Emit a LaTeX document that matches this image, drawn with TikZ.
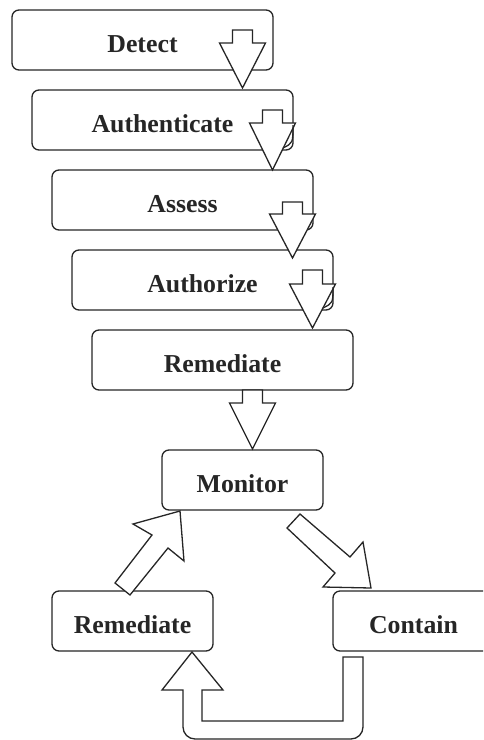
\documentclass[tikz,border=0pt]{standalone}
\usepackage{fontspec}
\setmainfont{Liberation Serif}
\definecolor{ink}{HTML}{262626}
\tikzset{
  box/.style={draw=ink, line width=1.3pt, fill=white, rounded corners=7pt,
    rectangle, inner sep=0pt, text=ink, text height=24pt, text depth=0pt,
    font=\fontsize{25.8}{30}\selectfont\bfseries},
  widebox/.style={box, minimum width=261pt, minimum height=60pt},
  smallbox/.style={box, minimum width=161pt, minimum height=60pt},
  barrow/.style={draw=ink, line width=1.3pt, fill=white, line join=miter},
}
% block arrow pointing down: centre x, shaft top, wing level, tip
\newcommand{\blockdown}[4]{%
  \draw[barrow] ({#1-10},#2) -- ({#1+10},#2) -- ({#1+10},#3) -- ({#1+23},#3)
    -- (#1,#4) -- ({#1-23},#3) -- ({#1-10},#3) -- cycle;}
\begin{document}
\begin{tikzpicture}[x=1pt, y=-1pt]
  \useasboundingbox (0,0) rectangle (483,740);
  \clip (0,0) rectangle (483,740);

  % stages
  \node[widebox] (detect) at (142.5,40)  {Detect};
  \node[widebox] (authn)  at (162.5,120) {Authenticate};
  \node[widebox] (assess) at (182.5,200) {Assess};
  \node[widebox] (authz)  at (202.5,280) {Authorize};
  \node[widebox] (remed)  at (222.5,360) {Remediate};
  \node[smallbox] (monitor) at (242.5,480) {Monitor};
  \node[smallbox] (remed2)  at (132.5,621) {Remediate};
  \node[smallbox] (contain) at (413.5,621) {Contain};

  % downward block arrows between stages
  \blockdown{242.5}{30}{43}{88}
  \blockdown{272.5}{110}{123}{170}
  \blockdown{292.5}{202}{214}{258}
  \blockdown{312.5}{270}{284}{328}
  \blockdown{252.5}{390}{403}{449}

  % corner arcs showing through the arrow heads
  \draw[ink, line width=1.3pt] (293,125) .. controls (293,143) .. (283,148);
  \draw[ink, line width=1.3pt] (333,287) .. controls (333,303) .. (323,308);

  % Monitor -> Contain
  \draw[barrow] (287,528) -- (300,514) -- (350,557) -- (363,542) -- (371,588)
    -- (323,587) -- (335,573) -- cycle;

  % Remediate -> Monitor
  \draw[barrow] (115,583) -- (152,535) -- (133,524) -- (180,511) -- (184,561)
    -- (168,548) -- (130,595) -- cycle;

  % Contain -> Remediate (U-turn)
  \draw[barrow] (343,657) -- (363,657)
    [rounded corners=12pt] -- (363,739) -- (183,739) [sharp corners] -- (183,690)
    -- (162,690) -- (192,652) -- (223,690) -- (202,690) -- (202,721)
    -- (343,721) -- cycle;
\end{tikzpicture}
\end{document}
